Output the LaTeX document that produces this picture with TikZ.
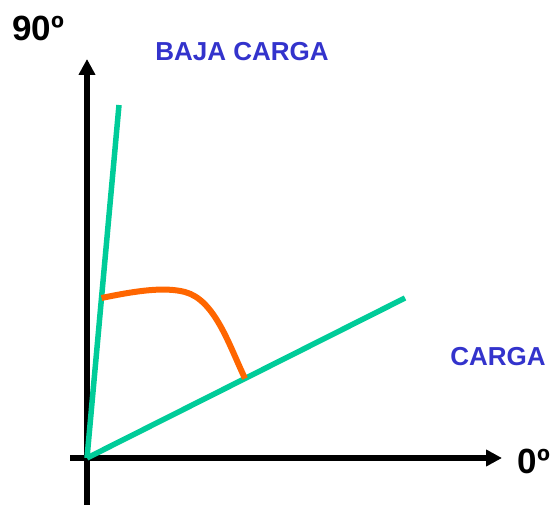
\documentclass[tikz,border=0pt]{standalone}
\usepackage{fontspec}
\setmainfont{Liberation Sans}
\usetikzlibrary{arrows.meta}
\definecolor{lblue}{HTML}{3333CC}
\definecolor{lgreen}{HTML}{00CC99}
\definecolor{lorange}{HTML}{FF6600}
\begin{document}
\begin{tikzpicture}[x=1pt,y=-1pt,
  axis/.style={line width=5.5pt,-{Triangle[length=16pt,width=16pt]}},
  gline/.style={lgreen,line width=5.5pt},
  oline/.style={lorange,line width=6pt},
  lab/.style={font=\fontsize{26}{30}\selectfont\bfseries,text=lblue,inner sep=0pt},
  axlab/.style={font=\fontsize{35}{40}\selectfont\bfseries,inner sep=0pt}]
\useasboundingbox (0,0) rectangle (552,505);
\coordinate (O) at (87,458);
\coordinate (ytop) at (87,59);
\coordinate (ybot) at (87,505);
\coordinate (xleft) at (70,458);
\coordinate (xright) at (502,458);
\coordinate (g1) at (119,105);
\coordinate (g2) at (405,298);
\coordinate (c1) at (101.5,298);
\coordinate (cm) at (185,292);
\coordinate (c2) at (245,378.5);
\draw[axis] (ybot) -- (ytop);
\draw[axis] (xleft) -- (xright);
\draw[gline] (O) -- (g1);
\draw[gline] (O) -- (g2);
\draw[oline] (c1) .. controls (140,290) and (165,287) .. (cm)
  .. controls (215,300) and (229,345) .. (c2);
\node[axlab] (n90) at (38,28) {90º};
\node[axlab] (n0) at (534,461) {0º};
\node[lab] (baja) at (242,52) {BAJA CARGA};
\node[lab] (carga) at (498,357) {CARGA};
\end{tikzpicture}
\end{document}
